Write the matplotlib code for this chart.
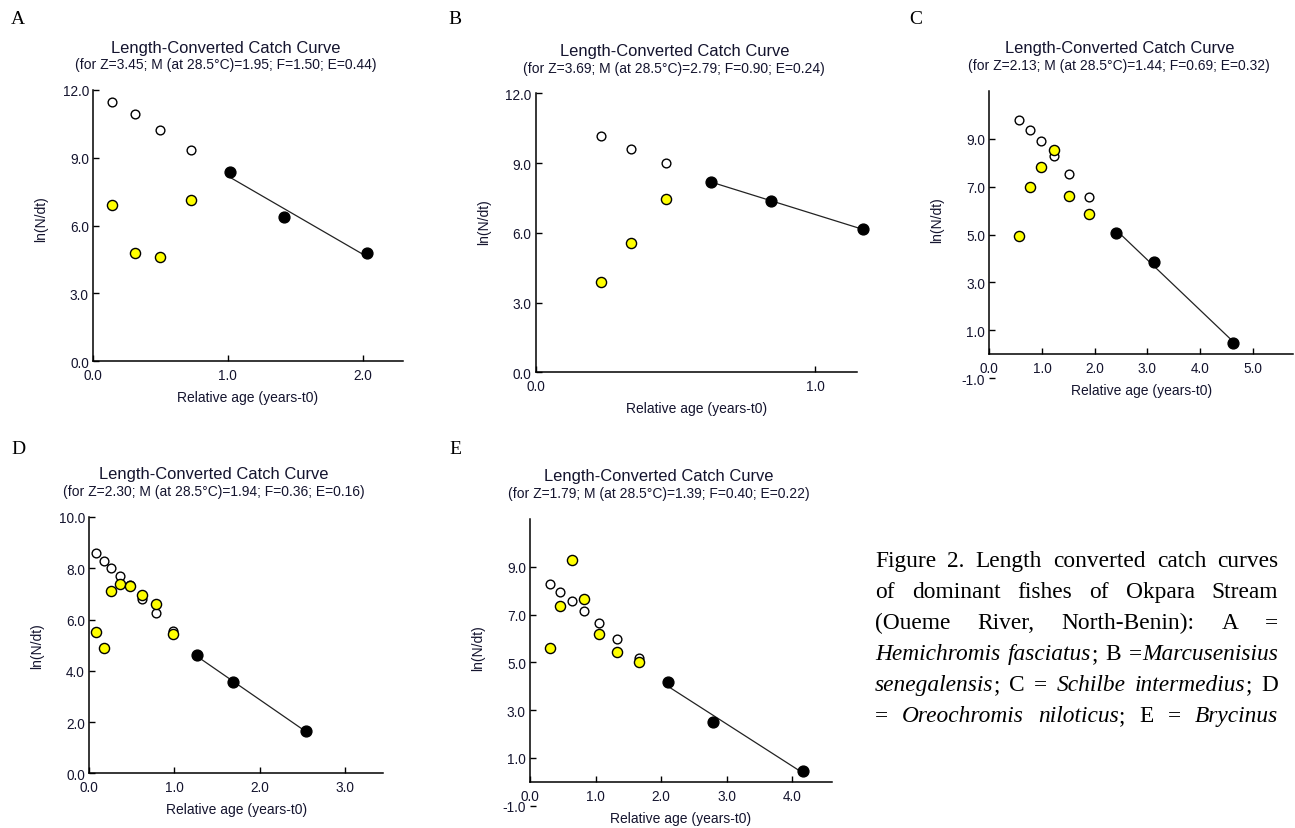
import numpy as np
import matplotlib
matplotlib.use('Agg')
import matplotlib.pyplot as plt
from matplotlib.transforms import offset_copy

plt.rcParams['font.family'] = ['Liberation Sans', 'DejaVu Sans']

# ---- data (relative age in years-t0, ln(N/dt)) ----
letters = ['A', 'B', 'C', 'D', 'E']
Z = [3.45, 3.69, 2.13, 2.30, 1.79]
M = [1.95, 2.79, 1.44, 1.94, 1.39]
F = [1.50, 0.90, 0.69, 0.36, 0.40]
E = [0.44, 0.24, 0.32, 0.16, 0.22]

age_A = [0.14, 0.31, 0.50, 0.73]
open_A = [11.47, 10.93, 10.24, 9.35]
yellow_A = [6.89, 4.77, 4.59, 7.12]
fitage_A = [1.02, 1.42, 2.03]
fit_A = [8.35, 6.36, 4.78]

age_B = [0.235, 0.342, 0.468]
open_B = [10.15, 9.62, 8.99]
yellow_B = [3.90, 5.57, 7.44]
fitage_B = [0.628, 0.842, 1.171]
fit_B = [8.20, 7.35, 6.16]

age_C = [0.57, 0.77, 0.98, 1.23, 1.52, 1.90]
open_C = [9.78, 9.37, 8.89, 8.27, 7.53, 6.56]
yellow_C = [4.93, 6.97, 7.82, 8.52, 6.60, 5.87]
fitage_C = [2.40, 3.12, 4.63]
fit_C = [5.08, 3.87, 0.47]

age_D = [0.078, 0.172, 0.26, 0.363, 0.481, 0.619, 0.780, 0.99]
open_D = [8.60, 8.30, 8.02, 7.70, 7.34, 6.80, 6.27, 5.56]
yellow_D = [5.50, 4.88, 7.10, 7.39, 7.31, 6.97, 6.62, 5.43]
fitage_D = [1.266, 1.684, 2.540]
fit_D = [4.60, 3.55, 1.65]

age_E = [0.31, 0.463, 0.637, 0.823, 1.057, 1.33, 1.665]
open_E = [8.27, 7.95, 7.58, 7.14, 6.64, 5.97, 5.19]
yellow_E = [5.62, 7.36, 9.30, 7.66, 6.19, 5.44, 5.03]
fitage_E = [2.109, 2.785, 4.168]
fit_E = [4.19, 2.50, 0.46]

caption = [
    "Figure 2. Length converted catch curves",
    "of dominant fishes of Okpara Stream",
    "(Oueme River, North-Benin): A =",
    "*Hemichromis fasciatus*; B =*Marcusenisius*",
    "*senegalensis*; C = *Schilbe intermedius*; D",
    "= *Oreochromis niloticus*; E = *Brycinus*",
]

# ---- layout (pixels) ----
W, H = 1295, 829
# left, top, right, bottom of each plot box
boxes = [(93, 91, 403, 362), (535.7, 94.3, 857, 373.3), (989.3, 91.7, 1293.3, 379.3),
         (89, 518, 383.3, 774.3), (530, 520, 831.7, 806.8)]
xlims = [2.30, 1.15, 5.77, 3.45, 4.60]
ylims = [(0, 12), (0, 12), (-1, 11), (0, 10), (-1, 11)]
xticks = [[0, 1, 2], [0, 1], [0, 1, 2, 3, 4, 5], [0, 1, 2, 3], [0, 1, 2, 3, 4]]
yticks = [[0, 3, 6, 9, 12], [0, 3, 6, 9, 12], [-1, 1, 3, 5, 7, 9],
          [0, 2, 4, 6, 8, 10], [-1, 1, 3, 5, 7, 9]]
letter_pos = [(18, 20), (455, 20), (915.7, 20), (18, 450), (455, 450)]

ages = [age_A, age_B, age_C, age_D, age_E]
opens = [open_A, open_B, open_C, open_D, open_E]
yellows = [yellow_A, yellow_B, yellow_C, yellow_D, yellow_E]
fitages = [fitage_A, fitage_B, fitage_C, fitage_D, fitage_E]
fits = [fit_A, fit_B, fit_C, fit_D, fit_E]

txt = '#14142e'


def fx(p):
    return p / W


def fy(p):
    return 1 - p / H


fig = plt.figure(figsize=(W / 100, H / 100), dpi=100)
fig.patch.set_facecolor('white')

for i in range(5):
    l, t, r, b = boxes[i]
    ax = fig.add_axes([fx(l), fy(b), (r - l) / W, (b - t) / H])
    ax.set_xlim(0, xlims[i])
    ax.set_ylim(*ylims[i])
    for s in ['top', 'right']:
        ax.spines[s].set_visible(False)
    ax.spines['bottom'].set_position(('data', 0))
    ax.spines['left'].set_bounds(0, ylims[i][1])
    for s in ['left', 'bottom']:
        ax.spines[s].set_linewidth(1.1)
    ax.set_xticks(xticks[i])
    ax.set_yticks(yticks[i])
    ax.set_xticklabels(['%.1f' % v for v in xticks[i]])
    ax.set_yticklabels(['%.1f' % v for v in yticks[i]])
    ax.tick_params(direction='in', length=4, width=1, labelsize=9.8, labelcolor=txt)
    ax.tick_params(axis='x', pad=5)
    ax.tick_params(axis='y', pad=3)
    ax.patch.set_alpha(0)

    ax.plot(ages[i], opens[i], 'o', ms=6.3, mfc='white', mec='black', mew=1.0,
            clip_on=False, zorder=3)
    ax.plot(ages[i], yellows[i], 'o', ms=7.3, mfc='#ffff00', mec='black', mew=1.0,
            clip_on=False, zorder=4)
    slope, icpt = np.polyfit(fitages[i], fits[i], 1)
    xx = np.array([fitages[i][0], fitages[i][-1]])
    ax.plot(xx, icpt + slope * xx, color='#222222', lw=0.9, clip_on=False, zorder=2)
    ax.plot(fitages[i], fits[i], 'o', ms=7.8, mfc='black', mec='black',
            clip_on=False, zorder=5)

    ax.text(0.5, 0, 'Relative age (years-t0)', fontsize=10, color=txt,
            ha='center', va='center',
            transform=offset_copy(ax.get_yaxis_transform(), fig=fig, y=-36, units='dots'))
    fig.text(fx(l - 52), fy(t + 128), 'ln(N/dt)', rotation=90, fontsize=10,
             color=txt, ha='center', va='center')

    cx = (l + r) / 2 - 22
    fig.text(fx(cx), fy(t - 43), 'Length-Converted Catch Curve', fontsize=11.9,
             color=txt, ha='center', va='center')
    sub = '(for Z=%.2f; M (at 28.5°C)=%.2f; F=%.2f; E=%.2f)' % (Z[i], M[i], F[i], E[i])
    fig.text(fx(cx), fy(t - 25.5), sub, fontsize=10, color=txt,
             ha='center', va='center')

    lx, ly = letter_pos[i]
    fig.text(fx(lx), fy(ly), letters[i], fontsize=14, family='Liberation Serif',
             ha='center', va='center')


# ---- justified caption ----
def parse(line):
    words, cur, seg, ital = [], [], '', False
    for ch in line:
        if ch == '*':
            if seg:
                cur.append((seg, ital))
                seg = ''
            ital = not ital
        elif ch == ' ':
            if seg:
                cur.append((seg, ital))
                seg = ''
            if cur:
                words.append(cur)
                cur = []
        else:
            seg += ch
    if seg:
        cur.append((seg, ital))
    if cur:
        words.append(cur)
    return words


renderer = fig.canvas.get_renderer()
cap_left, cap_right, base0, step = 875, 1278.3, 567, 31
for k, line in enumerate(caption):
    words = parse(line)
    objs, widths = [], []
    for w in words:
        segs, wsum = [], 0
        for s, it in w:
            t = fig.text(0, fy(base0 + k * step), s, fontsize=16.8,
                         family='Liberation Serif', style='italic' if it else 'normal',
                         va='baseline', ha='left')
            sw = t.get_window_extent(renderer).width
            segs.append((t, sw))
            wsum += sw
        objs.append(segs)
        widths.append(wsum)
    gap = (cap_right - cap_left - sum(widths)) / max(len(words) - 1, 1)
    x = cap_left
    for segs, wsum in zip(objs, widths):
        xs = x
        for t, sw in segs:
            t.set_x(fx(xs))
            xs += sw
        x += wsum + gap

fig.savefig('out.png', dpi=100)
